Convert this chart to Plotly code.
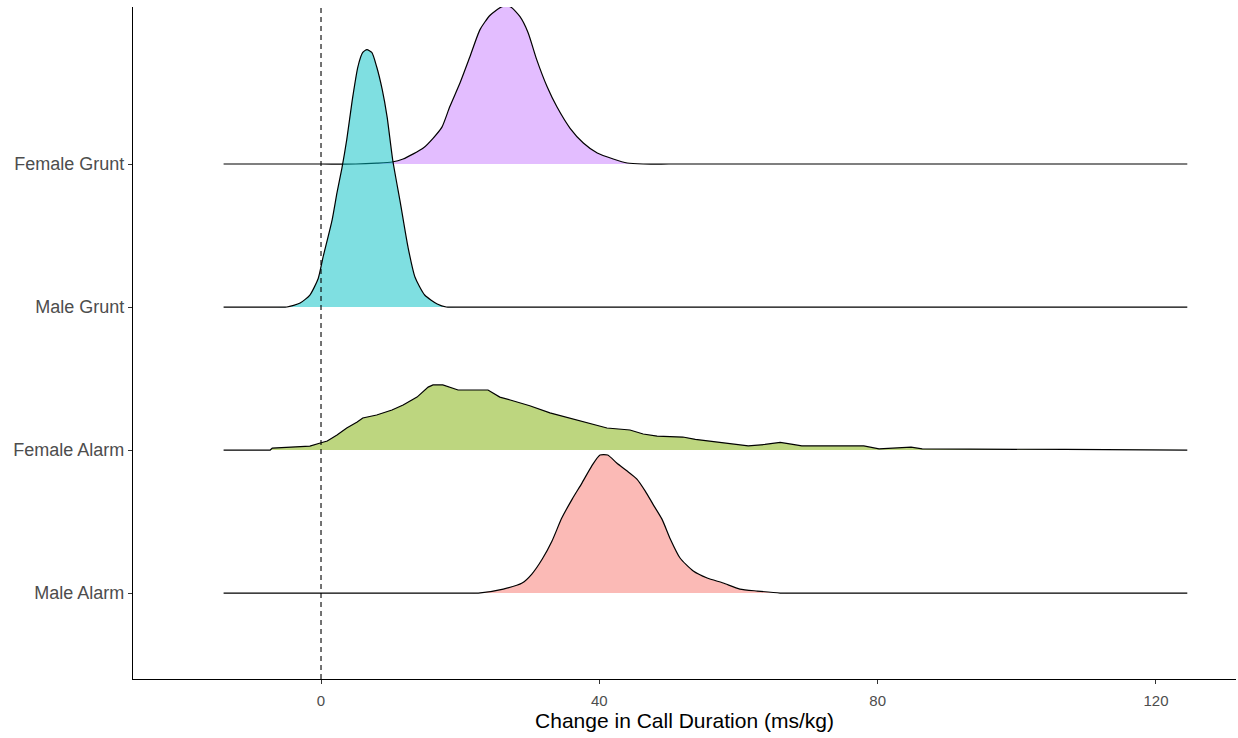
import plotly.graph_objects as go

# Ridge categories (bottom to top) and their baseline positions
categories = ["Male Alarm", "Female Alarm", "Male Grunt", "Female Grunt"]
positions = [1, 2, 3, 4]
fill_colors = ["rgba(248,118,109,0.5)", "rgba(124,174,0,0.5)",
               "rgba(0,191,196,0.5)", "rgba(199,124,255,0.5)"]

# Ridge heights (in units of category spacing)
fg_x = [-14.0, 0.0, 5.0, 8.0, 10.2, 11.8, 14.7, 16.1, 17.4, 18.5, 20.0, 21.4, 22.85, 24.3,
        26.0, 27.2, 28.6, 29.75, 31.0, 32.5, 33.9, 35.8, 37.7, 39.7, 42.0, 44.0, 46.3,
        50.0, 60.0, 124.5]
fg_h = [0, 0, 0, 0.006, 0.014, 0.035, 0.112, 0.18, 0.26, 0.40, 0.57, 0.75, 0.94, 1.04,
        1.10, 1.10, 1.03, 0.92, 0.73, 0.54, 0.40, 0.25, 0.147, 0.077, 0.035, 0.007, 0,
        0, 0, 0]

mg_x = [-14.0, -10.0, -7.0, -4.9, -3.0, -1.6, -0.4, 0.3, 1.6, 2.3, 3.0, 3.7, 4.5, 5.3,
        6.0, 6.6, 7.3, 8.0, 8.8, 9.5, 10.3, 11.4, 12.5, 13.5, 14.9, 16.7, 18.0, 20.0,
        24.0, 124.5]
mg_h = [0, 0, 0, 0, 0.028, 0.084, 0.20, 0.35, 0.61, 0.80, 0.97, 1.17, 1.45, 1.68,
        1.78, 1.80, 1.78, 1.68, 1.52, 1.33, 1.03, 0.73, 0.42, 0.21, 0.084, 0.021, 0, 0,
        0, 0]

fa_x = [-14.0, -7.3, -7.0, -3.4, -1.6, -0.1, 0.9, 2.3, 3.7, 5.2, 6.0, 8.0, 10.2, 11.8,
        13.8, 15.4, 16.1, 17.5, 19.7, 24.0, 25.7, 27.2, 30.0, 32.9, 35.8, 38.2, 41.1,
        44.4, 46.3, 48.3, 52.0, 53.8, 55.9, 58.1, 60.2, 61.4, 63.8, 66.0, 67.8, 69.1,
        78.0, 80.2, 84.8, 86.4, 106.9, 115.4, 123.5, 124.5]
fa_h = [0, 0, 0.014, 0.021, 0.028, 0.049, 0.063, 0.105, 0.154, 0.196, 0.224, 0.245,
        0.28, 0.315, 0.37, 0.44, 0.455, 0.455, 0.42, 0.42, 0.37, 0.35, 0.31, 0.26,
        0.224, 0.19, 0.154, 0.14, 0.112, 0.098, 0.091, 0.075, 0.062, 0.05, 0.04, 0.029,
        0.039, 0.053, 0.039, 0.029, 0.029, 0.008, 0.021, 0.008, 0.004, 0.003, 0, 0]

ma_x = [-14.0, 10.0, 17.0, 20.5, 22.6, 26.2, 28.9, 30.3, 31.8, 33.2, 34.6, 36.1, 37.5,
        38.9, 40.1, 41.2, 42.5, 44.0, 45.4, 46.6, 47.7, 49.0, 50.2, 51.6, 53.5, 55.5,
        57.8, 60.2, 62.7, 66.0, 69.0, 75.0, 124.5]
ma_h = [0, 0, 0, 0, 0, 0.028, 0.07, 0.133, 0.238, 0.364, 0.524, 0.657, 0.769,
        0.888, 0.965, 0.965, 0.909, 0.853, 0.797, 0.713, 0.622, 0.517, 0.378, 0.245,
        0.154, 0.105, 0.07, 0.028, 0.014, 0, 0, 0, 0]

x_ticks = [0, 40, 80, 120]
x_title = "Change in Call Duration (ms/kg)"

ridges = {
    "Male Alarm": (ma_x, ma_h, "spline"),
    "Female Alarm": (fa_x, fa_h, "linear"),
    "Male Grunt": (mg_x, mg_h, "spline"),
    "Female Grunt": (fg_x, fg_h, "spline"),
}

FONT = "Liberation Sans, Arial, sans-serif"
fig = go.Figure()

# draw top ridge first so lower ridges sit in front
for cat, pos, col in reversed(list(zip(categories, positions, fill_colors))):
    xs, hs, shape = ridges[cat]
    line = dict(color="black", width=1.2, shape=shape)
    if shape == "spline":
        line["smoothing"] = 0.6
    fig.add_trace(go.Scatter(
        x=xs, y=[pos + h for h in hs], mode="lines", fill="toself",
        fillcolor=col, line=line, hoverinfo="skip", showlegend=False))

fig.add_shape(type="line", xref="x", yref="paper", x0=0, x1=0, y0=0, y1=1,
              line=dict(color="black", width=1.1, dash="5px,4px"), layer="above")

fig.update_layout(
    width=1238, height=738,
    margin=dict(l=133, r=2, t=7, b=59),
    plot_bgcolor="white", paper_bgcolor="white",
    font=dict(family=FONT),
    xaxis=dict(range=[-27.02, 131.5], tickvals=x_ticks, ticktext=[str(t) for t in x_ticks],
               showgrid=False, zeroline=False, showline=True, linecolor="black",
               linewidth=1.2, ticks="outside", ticklen=4, tickcolor="#333333",
               ticklabelstandoff=4,
               tickfont=dict(size=15, color="#4D4D4D", family=FONT),
               title=dict(text=x_title, font=dict(size=21, color="black", family=FONT),
                          standoff=4)),
    yaxis=dict(range=[0.399, 5.098], tickvals=positions, ticktext=categories,
               showgrid=False, zeroline=False, showline=True, linecolor="black",
               linewidth=1.2, ticks="outside", ticklen=4, tickcolor="#333333",
               tickfont=dict(size=18, color="#4D4D4D", family=FONT)),
)

fig.write_html("out.html")
